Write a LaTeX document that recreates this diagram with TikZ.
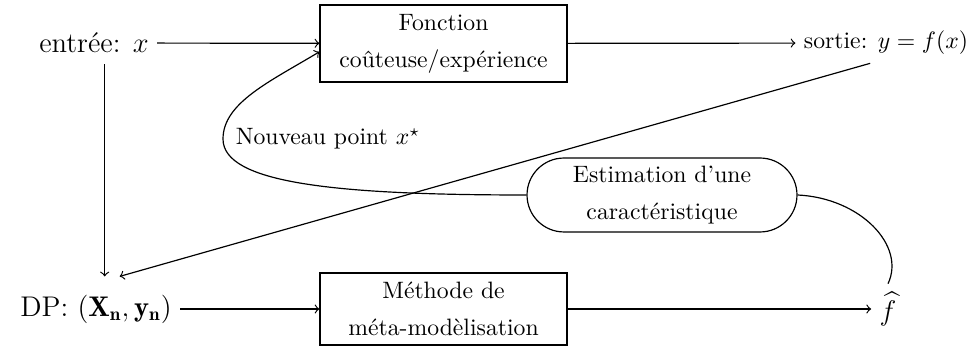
\documentclass[tikz,border=0pt]{standalone}
\usepackage{fontspec}
\usepackage{amsmath}
\begin{document}
\begin{tikzpicture}[x=0.4219pt,y=-0.4219pt,line width=0.5pt,
  every node/.style={font=\normalsize},
  box/.style={draw,minimum width=104.2pt,minimum height=32.5pt,align=center,inner sep=0pt},
  roundbox/.style={draw,rounded corners=15.6pt,minimum width=113.9pt,minimum height=31.2pt,align=center,inner sep=0pt},
  conn/.style={->}]
\useasboundingbox (0,0) rectangle (975,346);
\node[font=\large,inner ysep=4.5pt] (entree) at (94,43) {entrée: $x$};
\node[box] (f) at (443.5,43.5) {Fonction\\[3.6pt]coûteuse/expérience};
\node (sortie) at (886,43) {sortie: $y=f(x)$};
\node[roundbox] (est) at (662,195) {Estimation d’une\\[3.6pt]caractéristique};
\node (np) at (328,139) {Nouveau point $x^\star$};
\node[font=\large,inner ysep=7.5pt] (dp) at (96,309) {DP: $(\mathbf{X}_{\mathbf{n}},\mathbf{y}_{\mathbf{n}})$};
\node[box,minimum height=30.4pt] (m) at (443.5,309) {Méthode de\\[3.6pt]méta-modèlisation};
\node[font=\large] (fh) at (888,309) {$\widehat{f}$};
\coordinate (loopl) at (223,139);
\draw[conn] (entree) -- (f);
\draw[conn] (f) -- (sortie);
\draw[conn] ([xshift=4.5pt]entree.south) -- ([xshift=4.5pt]entree.south |- dp.north);
\draw[conn] ([xshift=-6.7pt]sortie.south) -- ([xshift=10pt]dp.north);
\draw[conn] (dp) -- (m);
\draw[conn] (m) -- (fh);
\draw[conn] (est.west) .. controls +(-192,0) and +(0,44) .. (loopl)
  .. controls +(0,-36) and +(-50,30) .. ([yshift=-3.5pt]f.west);
\draw (est.east) .. controls +(63,3) and +(18,-38) .. (fh.north);
\end{tikzpicture}
\end{document}
